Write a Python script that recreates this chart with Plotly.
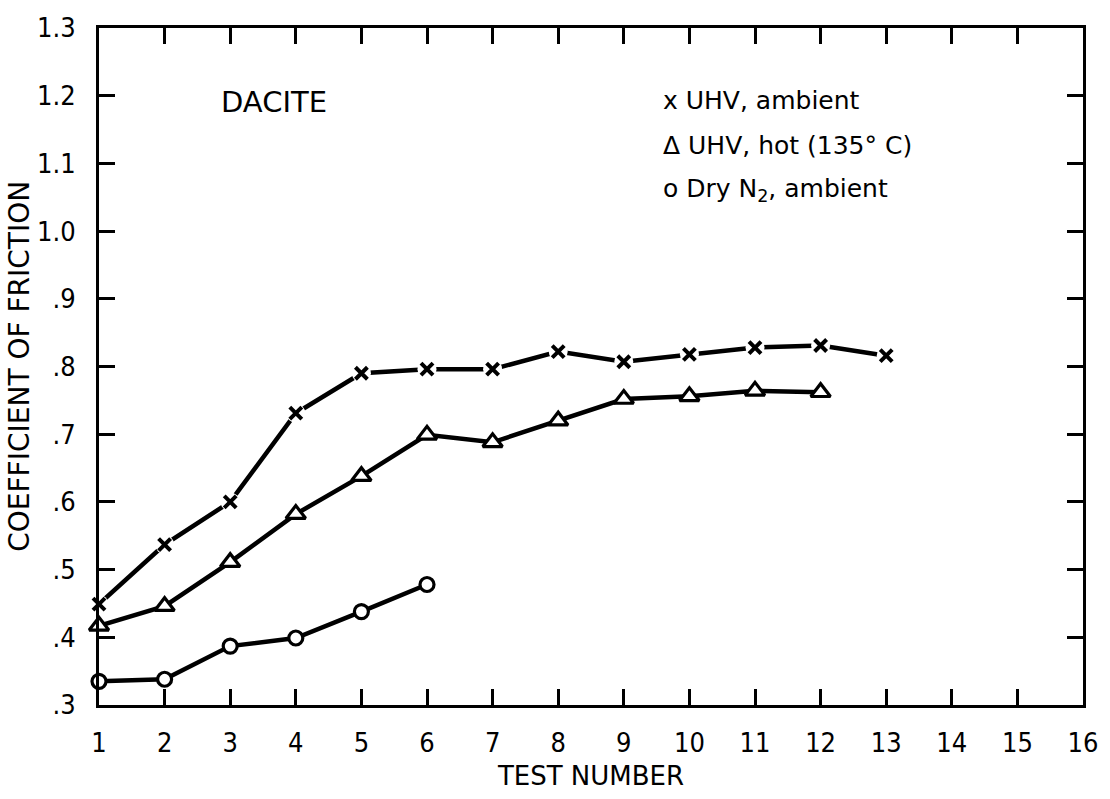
import plotly.graph_objects as go

# Test numbers and coefficient of friction for dacite
test_uhv_ambient = [1, 2, 3, 4, 5, 6, 7, 8, 9, 10, 11, 12, 13]
mu_uhv_ambient = [0.449, 0.537, 0.600, 0.731, 0.790, 0.796, 0.796, 0.822, 0.807, 0.818, 0.828, 0.831, 0.816]

test_uhv_hot = [1, 2, 3, 4, 5, 6, 7, 8, 9, 10, 11, 12]
mu_uhv_hot = [0.417, 0.446, 0.511, 0.582, 0.638, 0.699, 0.688, 0.720, 0.752, 0.756, 0.764, 0.762]

test_dry_n2 = [1, 2, 3, 4, 5, 6]
mu_dry_n2 = [0.335, 0.338, 0.387, 0.399, 0.438, 0.478]

x_ticks = list(range(1, 17))
y_tickvals = [0.3, 0.4, 0.5, 0.6, 0.7, 0.8, 0.9, 1.0, 1.1, 1.2, 1.3]
y_ticktext = [".3", ".4", ".5", ".6", ".7", ".8", ".9", "1.0", "1.1", "1.2", "1.3"]

FONT = "DejaVu Sans"
TICK_FONT = "DejaVu Sans Condensed"
INK = "black"

fig = go.Figure()

# connecting lines
for xs, ys in [(test_uhv_ambient, mu_uhv_ambient),
               (test_uhv_hot, mu_uhv_hot),
               (test_dry_n2, mu_dry_n2)]:
    fig.add_trace(go.Scatter(x=xs, y=ys, mode="lines",
                             line=dict(color=INK, width=4.5),
                             cliponaxis=False, showlegend=False,
                             hoverinfo="skip"))

# white halo behind the crosses so the line stops short of each mark
fig.add_trace(go.Scatter(x=test_uhv_ambient, y=mu_uhv_ambient, mode="markers",
                         marker=dict(symbol="circle", size=19, color="white",
                                     line=dict(width=0)),
                         cliponaxis=False, showlegend=False, hoverinfo="skip"))
fig.add_trace(go.Scatter(x=test_uhv_ambient, y=mu_uhv_ambient, mode="markers",
                         name="UHV, ambient",
                         marker=dict(symbol="x-thin", size=12,
                                     line=dict(color=INK, width=4)),
                         cliponaxis=False, showlegend=False))
fig.add_trace(go.Scatter(x=test_uhv_hot, y=mu_uhv_hot, mode="markers",
                         name="UHV, hot (135° C)",
                         marker=dict(symbol="triangle-up", size=17, color="white",
                                     line=dict(color=INK, width=3.2)),
                         cliponaxis=False, showlegend=False))
fig.add_trace(go.Scatter(x=test_dry_n2, y=mu_dry_n2, mode="markers",
                         name="Dry N2, ambient",
                         marker=dict(symbol="circle", size=14, color="white",
                                     line=dict(color=INK, width=3.2)),
                         cliponaxis=False, showlegend=False))

annotations = [
    dict(x=2.83, y=1.19, xref="x", yref="y", text="DACITE",
         xanchor="left", yanchor="middle", showarrow=False,
         font=dict(family=FONT, size=29, color=INK)),
    dict(x=9.56, y=1.193, xref="x", yref="y", text="x UHV, ambient",
         xanchor="left", yanchor="middle", showarrow=False,
         font=dict(family=FONT, size=25, color=INK)),
    dict(x=9.56, y=1.127, xref="x", yref="y", text="Δ UHV, hot (135° C)",
         xanchor="left", yanchor="middle", showarrow=False,
         font=dict(family=FONT, size=25, color=INK)),
    dict(x=9.56, y=1.061, xref="x", yref="y", text="o Dry N<sub>2</sub>, ambient",
         xanchor="left", yanchor="middle", showarrow=False,
         font=dict(family=FONT, size=25, color=INK)),
    # vertical axis title, placed in paper units left of the tick labels
    dict(x=-0.081, y=0.5, xref="paper", yref="paper", text="COEFFICIENT OF FRICTION",
         xanchor="center", yanchor="middle", showarrow=False, textangle=-90,
         font=dict(family=FONT, size=28, color=INK)),
]

fig.update_layout(
    width=1110, height=799,
    margin=dict(l=99, r=17, t=23, b=94),
    paper_bgcolor="white", plot_bgcolor="white",
    font=dict(family=FONT, color=INK, size=27),
    annotations=annotations,
    xaxis=dict(
        range=[1, 16], tickmode="array", tickvals=x_ticks,
        ticks="inside", ticklen=16, tickwidth=3, tickcolor=INK,
        showline=True, linewidth=3, linecolor=INK, mirror="ticks",
        showgrid=False, zeroline=False, ticklabelstandoff=12,
        ticklabeloverflow="allow",
        tickfont=dict(family=TICK_FONT, size=27, color=INK),
        title=dict(text="TEST NUMBER", standoff=10,
                   font=dict(family=FONT, size=26, color=INK)),
    ),
    yaxis=dict(
        range=[0.3, 1.3], tickmode="array", tickvals=y_tickvals, ticktext=y_ticktext,
        ticks="inside", ticklen=16, tickwidth=3, tickcolor=INK,
        showline=True, linewidth=3, linecolor=INK, mirror="ticks",
        showgrid=False, zeroline=False, ticklabelstandoff=15,
        tickfont=dict(family=TICK_FONT, size=27, color=INK),
    ),
)

fig.write_html("out.html")
